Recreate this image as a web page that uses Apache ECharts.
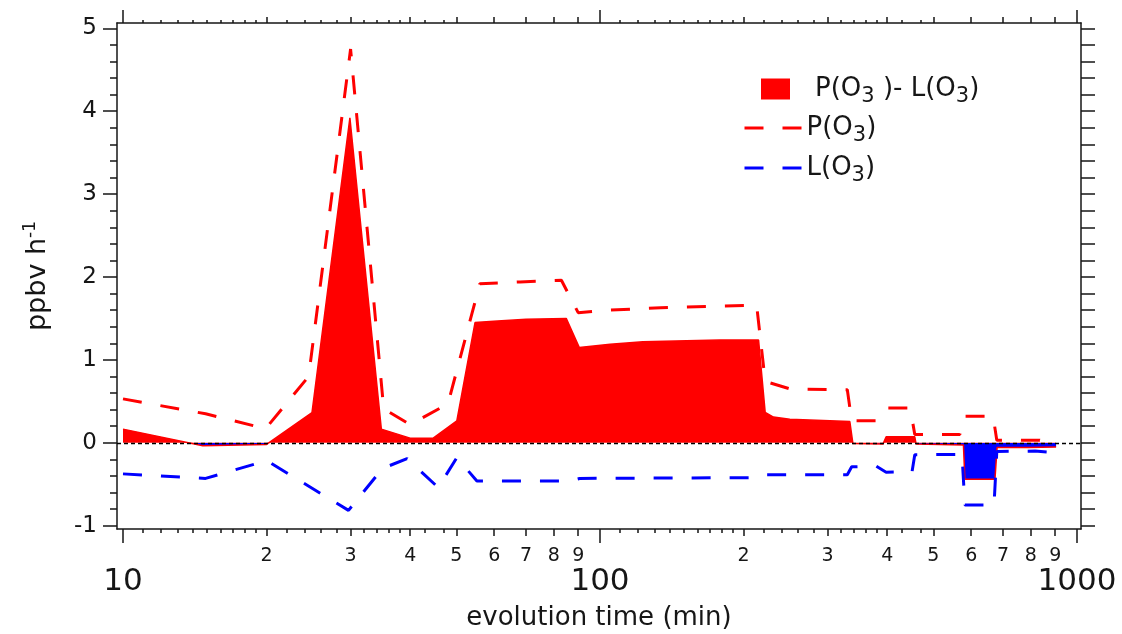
<!DOCTYPE html>
<html>
<head>
<meta charset="utf-8">
<title>P(O3) - L(O3)</title>
<script src="https://cdn.jsdelivr.net/npm/echarts@6/dist/echarts.min.js"></script>
<style>
html, body { margin: 0; padding: 0; background: #fff; }
#chart { width: 1122px; height: 634px; }
</style>
</head>
<body>
<div id="chart"></div>
<script>
// values: evolution time (min) and rates (ppbv h-1)
const pTime = [10, 14.9, 19.9, 24.5, 30, 35.2, 40, 48, 56, 68, 83, 90, 105, 134, 178, 213, 222, 250, 330, 337, 379, 398, 447, 457, 568, 580, 667, 679, 836, 904];
const pRate = [0.53, 0.35, 0.17, 0.80, 4.75, 0.41, 0.22, 0.47, 1.92, 1.94, 1.96, 1.57, 1.60, 1.63, 1.65, 1.66, 0.74, 0.65, 0.64, 0.265, 0.265, 0.42, 0.42, 0.10, 0.10, 0.32, 0.32, 0.03, 0.03, -0.02];

const lTime = [10, 14.9, 20, 29.7, 35, 39.4, 45.8, 50.1, 55.2, 86.6, 90.6, 213, 222, 330, 337, 379, 398, 451, 457, 574, 582, 670, 679, 817, 904];
const lRate = [-0.375, -0.43, -0.215, -0.815, -0.31, -0.19, -0.54, -0.18, -0.46, -0.46, -0.43, -0.42, -0.385, -0.385, -0.29, -0.28, -0.355, -0.35, -0.145, -0.14, -0.75, -0.75, -0.105, -0.10, -0.12];

const netTime = [10, 14.7, 20, 24.9, 29.9, 34.8, 40, 44.7, 50.1, 54.7, 61, 70, 85, 90.5, 105, 123, 178, 215, 222, 231, 250, 334, 339, 392, 398, 457, 460, 578, 582, 673, 680, 789, 904];
const netRate = [0.165, -0.035, -0.02, 0.365, 3.92, 0.165, 0.056, 0.056, 0.265, 1.45, 1.47, 1.49, 1.50, 1.15, 1.19, 1.22, 1.24, 1.24, 0.365, 0.31, 0.285, 0.257, -0.01, -0.016, 0.072, 0.072, -0.016, -0.028, -0.44, -0.44, -0.057, -0.057, -0.05];

// tick marks of the log time axis (min)
const decadeTicks = [10, 100, 1000];
const digitTicks = [20, 30, 40, 50, 60, 70, 80, 90, 200, 300, 400, 500, 600, 700, 800, 900];
const minorTicks = [11, 12, 13, 14, 15, 16, 17, 18, 19, 22, 24, 26, 28, 32, 34, 36, 38, 43, 47,
    110, 120, 130, 140, 150, 160, 170, 180, 190, 220, 240, 260, 280, 320, 340, 360, 380, 430, 470];
const yMajor = [-1, 0, 1, 2, 3, 4, 5];
const yMinor = [-0.8, -0.6, -0.4, -0.2, 0.2, 0.4, 0.6, 0.8, 1.2, 1.4, 1.6, 1.8, 2.2, 2.4, 2.6, 2.8,
    3.2, 3.4, 3.6, 3.8, 4.2, 4.4, 4.6, 4.8];

const NET = 'P(O3)-L(O3)';
const P = 'P(O3)';
const L = 'L(O3)';
const FONT = '"DejaVu Sans", sans-serif';
const INK = '#161616';
const RED = '#ff0000';
const BLUE = '#0000ff';

// x axis works on log10(min)
const lg = v => Math.log10(v);
const pairs = (ts, vs) => ts.map((t, i) => [lg(t), vs[i]]);

const X_MIN = 0.98742;
const X_MAX = 3.00839;

function xAx(pos, ticks, len, extra) {
    return Object.assign({
        type: 'value', position: pos, min: X_MIN, max: X_MAX,
        axisLine: { show: false, onZero: false },
        axisTick: { show: true, inside: false, length: len, customValues: ticks.map(lg),
            lineStyle: { color: INK, width: 1.5 } },
        axisLabel: { show: false },
        splitLine: { show: false }
    }, extra || {});
}

function yAx(pos, ticks, len, extra) {
    return Object.assign({
        type: 'value', position: pos, min: -1.04, max: 5.064,
        axisLine: { show: false, onZero: false },
        axisTick: { show: true, inside: false, length: len, customValues: ticks,
            lineStyle: { color: INK, width: 1.5 } },
        axisLabel: { show: false },
        splitLine: { show: false }
    }, extra || {});
}

const legendNames = {};
legendNames[NET] = 'P(O{s|3} )- L(O{s|3})';
legendNames[P] = 'P(O{s|3})';
legendNames[L] = 'L(O{s|3})';

const legendText = {
    fontSize: 26, color: INK, fontFamily: FONT,
    rich: { s: { fontSize: 21, fontFamily: FONT, color: INK, padding: [15, 0, 0, 0] } }
};

const lineLegend = (name, color) => ({
    name: name,
    itemStyle: { color: 'rgba(0,0,0,0)', borderWidth: 0 },
    lineStyle: { color: color, width: 3, type: [19, 19] }
});

const chart = echarts.init(document.getElementById('chart'));

chart.setOption({
    animation: false,
    backgroundColor: '#fff',
    grid: { left: 117, right: 41, top: 23, bottom: 105, outerBoundsMode: 'none' },
    xAxis: [
        xAx('bottom', decadeTicks, 14, {
            axisLine: { show: true, onZero: false, lineStyle: { color: INK, width: 1.5 } },
            axisLabel: { show: true, customValues: decadeTicks.map(lg), margin: 37,
                fontSize: 31, color: INK, fontFamily: FONT,
                formatter: v => String(Math.round(Math.pow(10, v))) },
            name: 'evolution time (min)', nameLocation: 'middle', nameGap: 76,
            nameTextStyle: { fontSize: 26, color: INK, fontFamily: FONT }
        }),
        xAx('bottom', digitTicks, 7, {
            axisLabel: { show: true, customValues: digitTicks.map(lg), margin: 18,
                fontSize: 19, color: INK, fontFamily: FONT,
                formatter: v => String(Math.round(Math.pow(10, v - Math.floor(v + 1e-9)))) }
        }),
        xAx('bottom', minorTicks, 4),
        xAx('top', decadeTicks, 13, {
            axisLine: { show: true, onZero: false, lineStyle: { color: INK, width: 1.5 } }
        }),
        xAx('top', digitTicks, 6),
        xAx('top', minorTicks, 3)
    ],
    yAxis: [
        yAx('left', yMajor, 14, {
            axisLine: { show: true, onZero: false, lineStyle: { color: INK, width: 1.5 } },
            axisLabel: { show: true, customValues: yMajor, margin: 20,
                fontSize: 23, color: INK, fontFamily: FONT },
            name: 'ppbv h{sup|-1}', nameLocation: 'middle', nameGap: 64, nameRotate: 90,
            nameTextStyle: { fontSize: 27, color: INK, fontFamily: FONT,
                rich: { sup: { fontSize: 17, color: INK, fontFamily: FONT, padding: [0, 0, 14, 0] } } }
        }),
        yAx('left', yMinor, 7),
        yAx('right', yMajor.concat(yMinor), 14, {
            axisLine: { show: true, onZero: false, lineStyle: { color: INK, width: 1.5 } }
        })
    ],
    visualMap: {
        show: false, type: 'piecewise', seriesIndex: 0, dimension: 1,
        pieces: [{ min: 0, max: 10, color: RED }, { min: -10, max: 0, color: BLUE }]
    },
    legend: [
        {
            data: [{ name: NET, icon: 'rect', itemStyle: { color: RED } }],
            left: 761, top: 76, padding: 0, itemWidth: 29, itemHeight: 21,
            selectedMode: false,
            formatter: n => legendNames[n],
            textStyle: Object.assign({ padding: [0, 0, 0, 20] }, legendText)
        },
        {
            data: [lineLegend(P, RED), lineLegend(L, BLUE)], orient: 'vertical',
            left: 743, top: 115, padding: 0, itemWidth: 57, itemHeight: 14, itemGap: 9,
            selectedMode: false,
            formatter: n => legendNames[n],
            textStyle: legendText
        }
    ],
    series: [
        {
            name: NET, type: 'line', data: pairs(netTime, netRate),
            symbol: 'none', itemStyle: { color: RED },
            lineStyle: { width: 0 },
            areaStyle: { opacity: 1 },
            z: 2
        },
        {
            name: 'net edge', type: 'line', data: pairs(netTime, netRate),
            symbol: 'none', itemStyle: { color: RED },
            lineStyle: { color: RED, width: 1.5 },
            z: 3,
            markLine: {
                silent: true, symbol: 'none', label: { show: false },
                lineStyle: { color: '#000', width: 1.3, type: [4, 3] },
                data: [{ yAxis: 0 }],
                z: 6
            }
        },
        {
            name: P, type: 'line', data: pairs(pTime, pRate),
            symbol: 'none', itemStyle: { color: RED },
            lineStyle: { color: RED, width: 3, type: [19, 19] },
            z: 4
        },
        {
            name: L, type: 'line', data: pairs(lTime, lRate),
            symbol: 'none', itemStyle: { color: BLUE },
            lineStyle: { color: BLUE, width: 3, type: [19, 19] },
            z: 4
        }
    ]
});
</script>
</body>
</html>
